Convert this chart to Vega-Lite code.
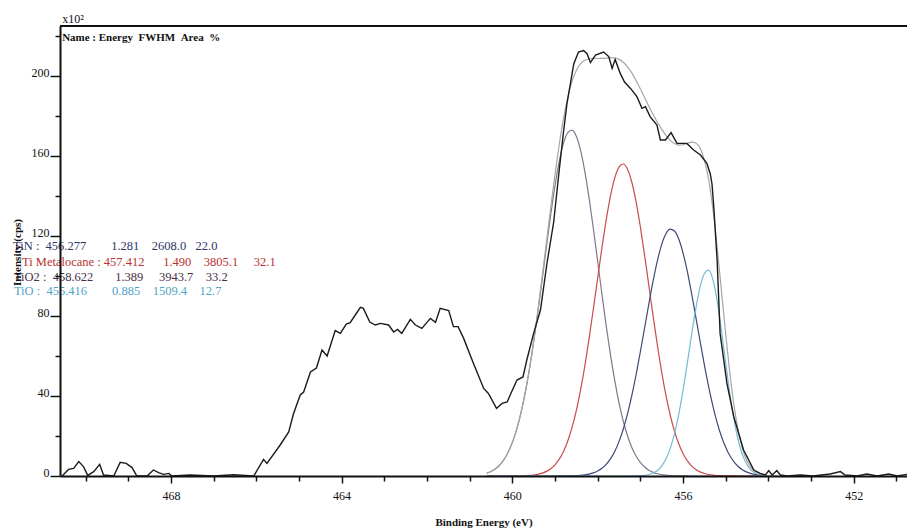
{
  "$schema": "https://vega.github.io/schema/vega-lite/v6.json",
  "width": 847,
  "height": 450,
  "autosize": {"type": "none"},
  "padding": {"left": 60, "top": 26, "right": 0, "bottom": 54},
  "background": "#ffffff",
  "config": {"view": {"stroke": null}, "font": "Liberation Serif"},
  "datasets": {
    "raw": [
      {"E": 470.55, "I": 0}, {"E": 470.40, "I": 3.3}, {"E": 470.28, "I": 3.8}, {"E": 470.16, "I": 7.2}, {"E": 470.05, "I": 4.7},
      {"E": 469.95, "I": 0.3}, {"E": 469.81, "I": 2.2}, {"E": 469.67, "I": 5.8}, {"E": 469.58, "I": 0.5}, {"E": 469.34, "I": 0},
      {"E": 469.19, "I": 6.8}, {"E": 469.05, "I": 6.3}, {"E": 468.91, "I": 4.2}, {"E": 468.80, "I": 0}, {"E": 468.56, "I": 0},
      {"E": 468.41, "I": 3}, {"E": 468.29, "I": 1.7}, {"E": 468.17, "I": 0.8}, {"E": 468.05, "I": 1.3}, {"E": 467.98, "I": 0},
      {"E": 467.55, "I": 0.5}, {"E": 467.0, "I": 0}, {"E": 466.53, "I": 0.6}, {"E": 466.06, "I": 0}, {"E": 465.83, "I": 8.3},
      {"E": 465.75, "I": 6.3}, {"E": 465.44, "I": 15.5}, {"E": 465.24, "I": 22}, {"E": 465.13, "I": 31}, {"E": 464.97, "I": 40.5},
      {"E": 464.89, "I": 42}, {"E": 464.73, "I": 52}, {"E": 464.59, "I": 54}, {"E": 464.46, "I": 63}, {"E": 464.34, "I": 60},
      {"E": 464.15, "I": 72.7}, {"E": 464.03, "I": 71.3}, {"E": 463.89, "I": 76}, {"E": 463.80, "I": 76.7}, {"E": 463.68, "I": 80.5},
      {"E": 463.56, "I": 84.3}, {"E": 463.49, "I": 83.8}, {"E": 463.34, "I": 77}, {"E": 463.21, "I": 75.5}, {"E": 463.09, "I": 76.3},
      {"E": 462.90, "I": 75.5}, {"E": 462.78, "I": 72}, {"E": 462.69, "I": 73.3}, {"E": 462.59, "I": 71.3}, {"E": 462.39, "I": 78.3},
      {"E": 462.27, "I": 75.5}, {"E": 462.12, "I": 73.8}, {"E": 461.92, "I": 78.8}, {"E": 461.80, "I": 76.8}, {"E": 461.69, "I": 83.8},
      {"E": 461.49, "I": 82.7}, {"E": 461.38, "I": 74.7}, {"E": 461.27, "I": 74.7}, {"E": 461.14, "I": 68.8}, {"E": 460.91, "I": 56.3},
      {"E": 460.67, "I": 43.8}, {"E": 460.56, "I": 41.3}, {"E": 460.37, "I": 33.8}, {"E": 460.24, "I": 36.3}, {"E": 460.12, "I": 37},
      {"E": 460.05, "I": 40.5}, {"E": 459.89, "I": 48}, {"E": 459.75, "I": 49.5}, {"E": 459.66, "I": 58}, {"E": 459.50, "I": 71.3},
      {"E": 459.34, "I": 83}, {"E": 459.19, "I": 106}, {"E": 459.03, "I": 127}, {"E": 458.90, "I": 153}, {"E": 458.80, "I": 172},
      {"E": 458.72, "I": 186}, {"E": 458.56, "I": 206}, {"E": 458.45, "I": 212}, {"E": 458.33, "I": 212.7}, {"E": 458.25, "I": 211.3},
      {"E": 458.17, "I": 206.7}, {"E": 458.05, "I": 210.5}, {"E": 457.86, "I": 212}, {"E": 457.74, "I": 209.7}, {"E": 457.66, "I": 203.8},
      {"E": 457.59, "I": 208.3}, {"E": 457.47, "I": 201.3}, {"E": 457.37, "I": 197}, {"E": 457.23, "I": 193.8}, {"E": 457.08, "I": 189.7},
      {"E": 456.96, "I": 183.8}, {"E": 456.88, "I": 184.7}, {"E": 456.77, "I": 179.7}, {"E": 456.61, "I": 175.5}, {"E": 456.53, "I": 168},
      {"E": 456.41, "I": 168}, {"E": 456.28, "I": 171.7}, {"E": 456.14, "I": 166.3}, {"E": 455.91, "I": 166.3}, {"E": 455.75, "I": 163},
      {"E": 455.59, "I": 160.5}, {"E": 455.44, "I": 156.3}, {"E": 455.36, "I": 151}, {"E": 455.32, "I": 146}, {"E": 455.28, "I": 135},
      {"E": 455.20, "I": 108}, {"E": 455.13, "I": 71.3}, {"E": 454.97, "I": 46.3}, {"E": 454.81, "I": 29.7}, {"E": 454.58, "I": 13},
      {"E": 454.34, "I": 3}, {"E": 454.19, "I": 1.3}, {"E": 454.07, "I": 0.5}, {"E": 453.99, "I": 2.7}, {"E": 453.91, "I": 0.5},
      {"E": 453.80, "I": 2.7}, {"E": 453.72, "I": 0.5}, {"E": 453.56, "I": 0}, {"E": 453.25, "I": 0.5}, {"E": 452.95, "I": 0},
      {"E": 452.55, "I": 1}, {"E": 452.31, "I": 2.2}, {"E": 452.20, "I": 0.5}, {"E": 451.92, "I": 0}, {"E": 451.69, "I": 1},
      {"E": 451.45, "I": 0}, {"E": 451.18, "I": 1}, {"E": 450.98, "I": 0}, {"E": 450.75, "I": 0.8}
    ],
    "fit": [
      {"E": 460.6, "TiO2": 1.39, "Met": 0, "TiN": 0, "TiO": 0, "Env": 1.39},
      {"E": 460.5, "TiO2": 2.24, "Met": 0, "TiN": 0, "TiO": 0, "Env": 2.24},
      {"E": 460.4, "TiO2": 3.52, "Met": 0.01, "TiN": 0, "TiO": 0, "Env": 3.53},
      {"E": 460.3, "TiO2": 5.38, "Met": 0.01, "TiN": 0, "TiO": 0, "Env": 5.39},
      {"E": 460.2, "TiO2": 8.04, "Met": 0.01, "TiN": 0, "TiO": 0, "Env": 8.05},
      {"E": 460.1, "TiO2": 11.7, "Met": 0.01, "TiN": 0, "TiO": 0, "Env": 11.71},
      {"E": 460.0, "TiO2": 16.7, "Met": 0.02, "TiN": 0, "TiO": 0, "Env": 16.72},
      {"E": 459.9, "TiO2": 23.1, "Met": 0.04, "TiN": 0, "TiO": 0, "Env": 23.14},
      {"E": 459.8, "TiO2": 31.3, "Met": 0.08, "TiN": 0, "TiO": 0, "Env": 31.38},
      {"E": 459.7, "TiO2": 41.3, "Met": 0.16, "TiN": 0, "TiO": 0, "Env": 41.46},
      {"E": 459.6, "TiO2": 53.2, "Met": 0.28, "TiN": 0, "TiO": 0, "Env": 53.48},
      {"E": 459.5, "TiO2": 66.9, "Met": 0.5, "TiN": 0, "TiO": 0, "Env": 67.4},
      {"E": 459.4, "TiO2": 82.1, "Met": 0.85, "TiN": 0, "TiO": 0, "Env": 82.95},
      {"E": 459.3, "TiO2": 98.2, "Met": 1.42, "TiN": 0, "TiO": 0, "Env": 99.62},
      {"E": 459.2, "TiO2": 114.6, "Met": 2.3, "TiN": 0, "TiO": 0, "Env": 116.9},
      {"E": 459.1, "TiO2": 130.5, "Met": 3.64, "TiN": 0, "TiO": 0, "Env": 134.14},
      {"E": 459.0, "TiO2": 145.1, "Met": 5.61, "TiN": 0.01, "TiO": 0, "Env": 150.72},
      {"E": 458.9, "TiO2": 157.3, "Met": 8.41, "TiN": 0.02, "TiO": 0, "Env": 165.73},
      {"E": 458.8, "TiO2": 166.4, "Met": 12.3, "TiN": 0.03, "TiO": 0, "Env": 178.73},
      {"E": 458.7, "TiO2": 171.7, "Met": 17.5, "TiN": 0.05, "TiO": 0, "Env": 189.25},
      {"E": 458.6, "TiO2": 172.9, "Met": 24.3, "TiN": 0.1, "TiO": 0, "Env": 197.3},
      {"E": 458.5, "TiO2": 169.9, "Met": 32.7, "TiN": 0.18, "TiO": 0, "Env": 202.78},
      {"E": 458.4, "TiO2": 162.8, "Met": 43.1, "TiN": 0.32, "TiO": 0, "Env": 206.22},
      {"E": 458.3, "TiO2": 152.2, "Met": 55.1, "TiN": 0.56, "TiO": 0, "Env": 207.86},
      {"E": 458.2, "TiO2": 138.9, "Met": 68.8, "TiN": 0.94, "TiO": 0, "Env": 208.64},
      {"E": 458.1, "TiO2": 123.7, "Met": 83.6, "TiN": 1.54, "TiO": 0, "Env": 208.84},
      {"E": 458.0, "TiO2": 107.4, "Met": 98.9, "TiN": 2.46, "TiO": 0, "Env": 208.76},
      {"E": 457.9, "TiO2": 91.0, "Met": 114.0, "TiN": 3.83, "TiO": 0, "Env": 208.83},
      {"E": 457.8, "TiO2": 75.2, "Met": 127.9, "TiN": 5.8, "TiO": 0, "Env": 208.9},
      {"E": 457.7, "TiO2": 60.7, "Met": 139.9, "TiN": 8.55, "TiO": 0, "Env": 209.15},
      {"E": 457.6, "TiO2": 47.8, "Met": 148.9, "TiN": 12.3, "TiO": 0, "Env": 209.0},
      {"E": 457.5, "TiO2": 36.7, "Met": 154.4, "TiN": 17.2, "TiO": 0, "Env": 208.3},
      {"E": 457.4, "TiO2": 27.5, "Met": 156.0, "TiN": 23.4, "TiO": 0, "Env": 206.9},
      {"E": 457.3, "TiO2": 20.1, "Met": 153.4, "TiN": 31.1, "TiO": 0.01, "Env": 204.61},
      {"E": 457.2, "TiO2": 14.3, "Met": 147.0, "TiN": 40.2, "TiO": 0.03, "Env": 201.53},
      {"E": 457.1, "TiO2": 10.0, "Met": 137.2, "TiN": 50.5, "TiO": 0.07, "Env": 197.77},
      {"E": 457.0, "TiO2": 6.76, "Met": 124.7, "TiN": 62.0, "TiO": 0.16, "Env": 193.62},
      {"E": 456.9, "TiO2": 4.48, "Met": 110.4, "TiN": 74.0, "TiO": 0.35, "Env": 189.23},
      {"E": 456.8, "TiO2": 2.89, "Met": 95.2, "TiN": 86.1, "TiO": 0.73, "Env": 184.92},
      {"E": 456.7, "TiO2": 1.82, "Met": 79.9, "TiN": 97.6, "TiO": 1.46, "Env": 180.78},
      {"E": 456.6, "TiO2": 1.12, "Met": 65.4, "TiN": 107.6, "TiO": 2.76, "Env": 176.88},
      {"E": 456.5, "TiO2": 0.67, "Met": 52.1, "TiN": 115.7, "TiO": 4.95, "Env": 173.42},
      {"E": 456.4, "TiO2": 0.39, "Met": 40.4, "TiN": 121.1, "TiO": 8.45, "Env": 170.34},
      {"E": 456.3, "TiO2": 0.22, "Met": 30.5, "TiN": 123.4, "TiO": 13.7, "Env": 167.82},
      {"E": 456.2, "TiO2": 0.12, "Met": 22.5, "TiN": 122.5, "TiO": 21.1, "Env": 166.22},
      {"E": 456.1, "TiO2": 0.07, "Met": 16.1, "TiN": 118.5, "TiO": 30.8, "Env": 165.47},
      {"E": 456.0, "TiO2": 0.04, "Met": 11.3, "TiN": 111.6, "TiO": 42.7, "Env": 165.64},
      {"E": 455.9, "TiO2": 0.02, "Met": 7.66, "TiN": 102.4, "TiO": 56.2, "Env": 166.28},
      {"E": 455.8, "TiO2": 0.01, "Met": 5.07, "TiN": 91.5, "TiO": 70.4, "Env": 166.98},
      {"E": 455.7, "TiO2": 0, "Met": 3.27, "TiN": 79.6, "TiO": 83.6, "Env": 166.47},
      {"E": 455.6, "TiO2": 0, "Met": 2.05, "TiN": 67.5, "TiO": 94.4, "Env": 163.95},
      {"E": 455.5, "TiO2": 0, "Met": 1.26, "TiN": 55.7, "TiO": 101.1, "Env": 158.06},
      {"E": 455.4, "TiO2": 0, "Met": 0.75, "TiN": 44.8, "TiO": 102.9, "Env": 148.45},
      {"E": 455.3, "TiO2": 0, "Met": 0.43, "TiN": 35.1, "TiO": 98.3, "Env": 133.83},
      {"E": 455.2, "TiO2": 0, "Met": 0.25, "TiN": 26.7, "TiO": 87.6, "Env": 114.55},
      {"E": 455.1, "TiO2": 0, "Met": 0.14, "TiN": 19.9, "TiO": 72.9, "Env": 92.94},
      {"E": 455.0, "TiO2": 0, "Met": 0.07, "TiN": 14.4, "TiO": 56.6, "Env": 71.07},
      {"E": 454.9, "TiO2": 0, "Met": 0.04, "TiN": 10.1, "TiO": 41.0, "Env": 51.14},
      {"E": 454.8, "TiO2": 0, "Met": 0.02, "TiN": 6.96, "TiO": 27.7, "Env": 34.68},
      {"E": 454.7, "TiO2": 0, "Met": 0.01, "TiN": 4.65, "TiO": 17.5, "Env": 22.16},
      {"E": 454.6, "TiO2": 0, "Met": 0, "TiN": 3.03, "TiO": 10.3, "Env": 13.33},
      {"E": 454.5, "TiO2": 0, "Met": 0, "TiN": 1.92, "TiO": 5.64, "Env": 7.56},
      {"E": 454.4, "TiO2": 0, "Met": 0, "TiN": 1.19, "TiO": 2.89, "Env": 4.08},
      {"E": 454.3, "TiO2": 0, "Met": 0, "TiN": 0.71, "TiO": 1.38, "Env": 2.09},
      {"E": 454.2, "TiO2": 0, "Met": 0, "TiN": 0.42, "TiO": 0.62, "Env": 1.04},
      {"E": 454.1, "TiO2": 0, "Met": 0, "TiN": 0.24, "TiO": 0.26, "Env": 0.5},
      {"E": 454.0, "TiO2": 0, "Met": 0, "TiN": 0.13, "TiO": 0.1, "Env": 0.23},
      {"E": 453.9, "TiO2": 0, "Met": 0, "TiN": 0.07, "TiO": 0.04, "Env": 0.11},
      {"E": 453.8, "TiO2": 0, "Met": 0, "TiN": 0.04, "TiO": 0.01, "Env": 0.05}
    ]
  },
  "layer": [
    {
      "data": {"name": "raw"},
      "mark": {"type": "line", "color": "#1b1b1b", "strokeWidth": 1.4, "opacity": 0},
      "encoding": {
        "x": {
          "field": "E", "type": "quantitative",
          "scale": {"domain": [450.75, 470.6], "reverse": true, "nice": false, "zero": false},
          "axis": {
            "title": "Binding Energy (eV)",
            "values": [451, 452, 453, 454, 455, 456, 457, 458, 459, 460, 461, 462, 463, 464, 465, 466, 467, 468, 469, 470],
            "format": "d",
            "labelExpr": "datum.value % 4 === 0 ? datum.label : ''",
            "grid": false,
            "domainColor": "#111111", "domainWidth": 2,
            "tickColor": "#111111", "tickWidth": 1.5,
            "tickSize": {"condition": {"test": "datum.value % 4 === 0", "value": 7}, "value": 5},
            "labelFont": "Liberation Serif", "labelFontSize": 12, "labelColor": "#111111", "labelPadding": 7,
            "labelOverlap": false, "labelFlush": false,
            "titleFont": "Liberation Serif", "titleFontSize": 11, "titleFontWeight": "bold", "titleColor": "#111111",
            "titleY": 49, "titleBaseline": "alphabetic",
            "zindex": 1
          }
        },
        "y": {
          "field": "I", "type": "quantitative",
          "scale": {"domain": [0, 225], "nice": false},
          "axis": {
            "title": "Intensity (cps)",
            "values": [0, 20, 40, 60, 80, 100, 120, 140, 160, 180, 200, 220],
            "format": "d",
            "labelExpr": "datum.value % 40 === 0 ? datum.label : ''",
            "grid": false,
            "domainColor": "#111111", "domainWidth": 2,
            "tickColor": "#111111", "tickWidth": 1.5,
            "tickSize": {"condition": {"test": "datum.value % 40 === 0", "value": 10}, "value": 5},
            "labelFont": "Liberation Serif", "labelFontSize": 12, "labelColor": "#111111",
            "labelBaseline": "alphabetic", "labelPadding": 1, "labelOverlap": false, "labelFlush": false,
            "titleFont": "Liberation Serif", "titleFontSize": 11, "titleFontWeight": "bold", "titleColor": "#111111",
            "titleX": -43, "titleY": 226, "titleAngle": -90, "titleAlign": "center", "titleBaseline": "middle",
            "zindex": 1
          }
        }
      }
    },
    {
      "data": {"values": [{}]},
      "mark": {"type": "rule", "color": "#111111", "strokeWidth": 2},
      "encoding": {"y": {"datum": 225, "type": "quantitative"}}
    },
    {
      "data": {"name": "fit"},
      "mark": {"type": "line", "color": "#80788f", "strokeWidth": 1.2, "interpolate": "monotone"},
      "encoding": {
        "x": {"field": "E", "type": "quantitative"},
        "y": {"field": "TiO2", "type": "quantitative"}
      }
    },
    {
      "data": {"name": "fit"},
      "mark": {"type": "line", "color": "#cc4b4b", "strokeWidth": 1.2, "interpolate": "monotone"},
      "encoding": {
        "x": {"field": "E", "type": "quantitative"},
        "y": {"field": "Met", "type": "quantitative"}
      }
    },
    {
      "data": {"name": "fit"},
      "mark": {"type": "line", "color": "#3d4a78", "strokeWidth": 1.2, "interpolate": "monotone"},
      "encoding": {
        "x": {"field": "E", "type": "quantitative"},
        "y": {"field": "TiN", "type": "quantitative"}
      }
    },
    {
      "data": {"name": "fit"},
      "mark": {"type": "line", "color": "#72bcd4", "strokeWidth": 1.2, "interpolate": "monotone"},
      "encoding": {
        "x": {"field": "E", "type": "quantitative"},
        "y": {"field": "TiO", "type": "quantitative"}
      }
    },
    {
      "data": {"name": "fit"},
      "mark": {"type": "line", "color": "#a6a6a6", "strokeWidth": 1.2, "interpolate": "monotone"},
      "encoding": {
        "x": {"field": "E", "type": "quantitative"},
        "y": {"field": "Env", "type": "quantitative"}
      }
    },
    {
      "data": {"name": "raw"},
      "mark": {"type": "line", "color": "#1b1b1b", "strokeWidth": 1.4},
      "encoding": {
        "x": {"field": "E", "type": "quantitative"},
        "y": {"field": "I", "type": "quantitative"}
      }
    },
    {
      "data": {"values": [{"t": "x10²"}]},
      "mark": {"type": "text", "align": "left", "baseline": "alphabetic", "font": "Liberation Serif", "fontSize": 12, "color": "#111111"},
      "encoding": {
        "x": {"datum": 470.55, "type": "quantitative"},
        "y": {"datum": 226.5, "type": "quantitative"},
        "text": {"field": "t"}
      }
    },
    {
      "data": {"values": [{"t": "Name : Energy\u00a0\u00a0FWHM\u00a0\u00a0Area\u00a0\u00a0%"}]},
      "mark": {"type": "text", "align": "left", "baseline": "middle", "font": "Liberation Serif", "fontSize": 11, "fontWeight": "bold", "color": "#111111"},
      "encoding": {
        "x": {"datum": 470.55, "type": "quantitative"},
        "y": {"datum": 219.2, "type": "quantitative"},
        "text": {"field": "t"}
      }
    },
    {
      "data": {"values": [{"t": "TiN :\u00a0\u00a0456.277\u00a0\u00a0\u00a0\u00a0\u00a0\u00a0\u00a0\u00a01.281\u00a0\u00a0\u00a0\u00a02608.0\u00a0\u00a0\u00a022.0"}]},
      "mark": {"type": "text", "align": "left", "baseline": "middle", "font": "Liberation Serif", "fontSize": 12.5, "color": "#2c3566"},
      "encoding": {
        "x": {"datum": 471.70, "type": "quantitative"},
        "y": {"datum": 115, "type": "quantitative"},
        "text": {"field": "t"}
      }
    },
    {
      "data": {"values": [{"t": "Ti Metalocane : 457.412\u00a0\u00a0\u00a0\u00a0\u00a0\u00a01.490\u00a0\u00a0\u00a0\u00a03805.1\u00a0\u00a0\u00a0\u00a0\u00a032.1"}]},
      "mark": {"type": "text", "align": "left", "baseline": "middle", "font": "Liberation Serif", "fontSize": 12.5, "color": "#b8312f"},
      "encoding": {
        "x": {"datum": 471.49, "type": "quantitative"},
        "y": {"datum": 107.2, "type": "quantitative"},
        "text": {"field": "t"}
      }
    },
    {
      "data": {"values": [{"t": "TiO2 :\u00a0\u00a0458.622\u00a0\u00a0\u00a0\u00a0\u00a0\u00a0\u00a01.389\u00a0\u00a0\u00a0\u00a0\u00a03943.7\u00a0\u00a0\u00a0\u00a033.2"}]},
      "mark": {"type": "text", "align": "left", "baseline": "middle", "font": "Liberation Serif", "fontSize": 12.5, "color": "#4a2f45"},
      "encoding": {
        "x": {"datum": 471.68, "type": "quantitative"},
        "y": {"datum": 99.7, "type": "quantitative"},
        "text": {"field": "t"}
      }
    },
    {
      "data": {"values": [{"t": "TiO :\u00a0\u00a0455.416\u00a0\u00a0\u00a0\u00a0\u00a0\u00a0\u00a0\u00a00.885\u00a0\u00a0\u00a0\u00a01509.4\u00a0\u00a0\u00a0\u00a012.7"}]},
      "mark": {"type": "text", "align": "left", "baseline": "middle", "font": "Liberation Serif", "fontSize": 12.5, "color": "#4fa3c7"},
      "encoding": {
        "x": {"datum": 471.68, "type": "quantitative"},
        "y": {"datum": 92.7, "type": "quantitative"},
        "text": {"field": "t"}
      }
    }
  ]
}
